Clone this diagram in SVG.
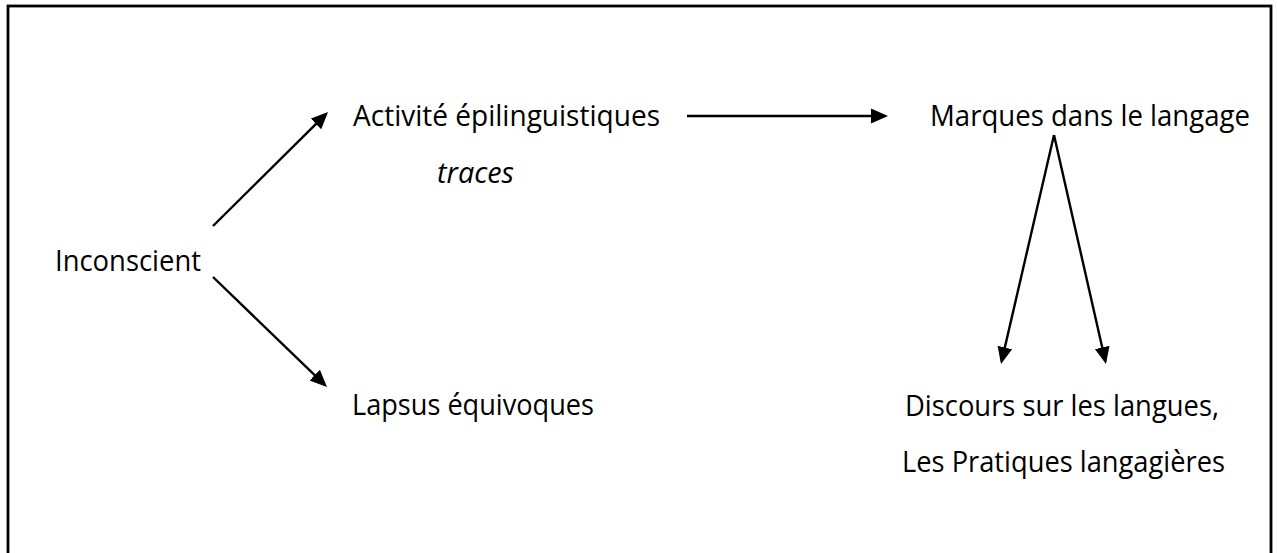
<svg xmlns="http://www.w3.org/2000/svg" width="1277" height="553" viewBox="0 0 1277 553">
  <style>
    .t { font-family: "Open Sans", "Noto Sans", "Liberation Sans", sans-serif; font-size: 30px; fill: #000; }
    .it { font-style: italic; }
    .c { stroke: #000; stroke-width: 2.4; fill: none; marker-end: url(#ah); }
    .frame { fill: #fff; stroke: #000; stroke-width: 2.8; }
  </style>
  <defs>
    <marker id="ah" markerUnits="userSpaceOnUse" markerWidth="20" markerHeight="18" viewBox="0 0 20 18" refX="14" refY="8" orient="auto">
      <path d="M0,0.5 L17,8 L0,15.5 z" fill="#000"/>
    </marker>
  </defs>
  <rect x="0" y="0" width="1277" height="553" fill="#fff"/>
  <rect class="frame" x="8" y="6" width="1263" height="620"/>

  <g id="connectors">
    <line class="c" x1="213" y1="226" x2="325.9" y2="114.1"/>
    <line class="c" x1="213" y1="277" x2="324.8" y2="384.9"/>
    <line class="c" x1="687" y1="116" x2="885" y2="116"/>
    <line class="c" x1="1054" y1="135" x2="1001.7" y2="361.1"/>
    <line class="c" x1="1054" y1="135" x2="1105.3" y2="361.1"/>
  </g>

  <g id="node-inconscient">
    <text class="t" x="55" y="271" textLength="146" lengthAdjust="spacingAndGlyphs">Inconscient</text>
  </g>
  <g id="node-activite">
    <text class="t" x="353" y="126" textLength="307" lengthAdjust="spacingAndGlyphs">Activité épilinguistiques</text>
    <text class="t it" x="437" y="183" textLength="77" lengthAdjust="spacingAndGlyphs">traces</text>
  </g>
  <g id="node-marques">
    <text class="t" x="930" y="126" textLength="320" lengthAdjust="spacingAndGlyphs">Marques dans le langage</text>
  </g>
  <g id="node-lapsus">
    <text class="t" x="352" y="415" textLength="242" lengthAdjust="spacingAndGlyphs">Lapsus équivoques</text>
  </g>
  <g id="node-discours">
    <text class="t" x="905" y="416" textLength="314" lengthAdjust="spacingAndGlyphs">Discours sur les langues,</text>
    <text class="t" x="902" y="472" textLength="323" lengthAdjust="spacingAndGlyphs">Les Pratiques langagières</text>
  </g>
</svg>
